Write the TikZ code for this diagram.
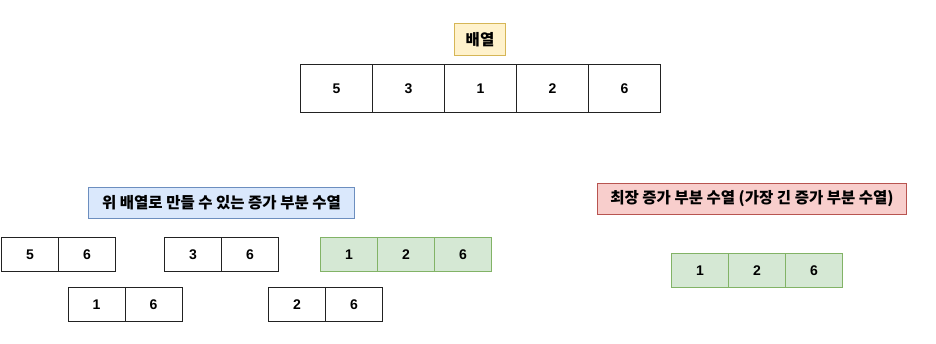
\documentclass[tikz,border=0pt]{standalone}
\usepackage{fontspec}
\setmainfont{Liberation Sans}
\newfontfamily\kr{Noto Sans CJK KR}
\definecolor{ylwF}{HTML}{FFF2CC}\definecolor{ylwD}{HTML}{D6B656}
\definecolor{bluF}{HTML}{DAE8FC}\definecolor{bluD}{HTML}{6C8EBF}
\definecolor{redF}{HTML}{F8CECC}\definecolor{redD}{HTML}{B85450}
\definecolor{grnF}{HTML}{D5E8D4}\definecolor{grnD}{HTML}{82B366}
\definecolor{edge}{HTML}{222222}
\tikzset{
  cellbig/.style={draw=edge, line width=1pt, anchor=north west, inner sep=0pt, minimum width=72pt, minimum height=48pt, font=\fontsize{14}{16}\selectfont\bfseries},
  cellsm/.style={draw=edge, line width=1pt, anchor=north west, inner sep=0pt, minimum width=57pt, minimum height=34pt, font=\fontsize{14}{16}\selectfont\bfseries},
  cellgr/.style={cellsm, draw=grnD, fill=grnF},
  lbl/.style={line width=1pt, anchor=north west, inner sep=0pt, font=\kr\fontsize{15.5}{17}\selectfont\bfseries},
}
\begin{document}
\begin{tikzpicture}[x=1pt,y=-1pt]
\useasboundingbox (0,0) rectangle (936,343);
% title
\node[lbl, draw=ylwD, fill=ylwF, minimum width=51pt, minimum height=32pt] (t) at (454,23) {배열};
% array
\node[cellbig] (a1) at (300,64) {5};
\node[cellbig] (a2) at (372,64) {3};
\node[cellbig] (a3) at (444,64) {1};
\node[cellbig] (a4) at (516,64) {2};
\node[cellbig] (a5) at (588,64) {6};
% labels
\node[lbl, draw=bluD, fill=bluF, minimum width=266pt, minimum height=31pt] (lb) at (88,187) {위 배열로 만들 수 있는 증가 부분 수열};
\node[lbl, draw=redD, fill=redF, minimum width=309pt, minimum height=31pt] (lr) at (597,183) {최장 증가 부분 수열 (가장 긴 증가 부분 수열)};
% pairs
\node[cellsm] (p1a) at (1,237) {5};
\node[cellsm] (p1b) at (58,237) {6};
\node[cellsm] (p2a) at (164,237) {3};
\node[cellsm] (p2b) at (221,237) {6};
\node[cellgr] (g1) at (320,237) {1};
\node[cellgr] (g2) at (377,237) {2};
\node[cellgr] (g3) at (434,237) {6};
\node[cellsm] (p3a) at (67.5,287) {1};
\node[cellsm] (p3b) at (124.5,287) {6};
\node[cellsm] (p4a) at (268,287) {2};
\node[cellsm] (p4b) at (325,287) {6};
% longest
\node[cellgr] (r1) at (671,253) {1};
\node[cellgr] (r2) at (728,253) {2};
\node[cellgr] (r3) at (785,253) {6};
\end{tikzpicture}
\end{document}
